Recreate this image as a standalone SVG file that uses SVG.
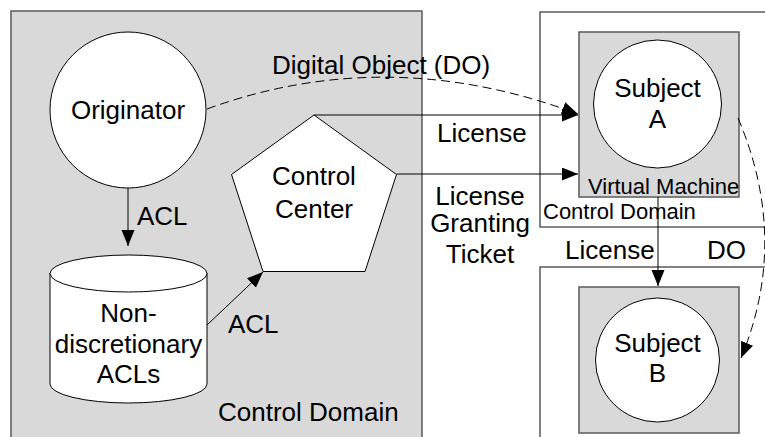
<svg xmlns="http://www.w3.org/2000/svg" width="765" height="437" viewBox="0 0 765 437">
  <style>
    .domain { fill: #d9d9d9; stroke: #5a5a5a; stroke-width: 1.5; }
    .frame { fill: #ffffff; stroke: #5a5a5a; stroke-width: 1.5; }
    .shape { fill: #ffffff; stroke: #000000; stroke-width: 1; }
    .edge { fill: none; stroke: #000000; stroke-width: 1; }
    .dashed { stroke-dasharray: 9 5; }
    text { font-family: "Liberation Sans", Arial, Helvetica, sans-serif; fill: #000000; }
    .big { font-size: 26px; }
    .small { font-size: 22px; }
    .mid { text-anchor: middle; }
  </style>
  <defs>
    <marker id="arrow" markerUnits="userSpaceOnUse" markerWidth="17" markerHeight="14" refX="16" refY="6.5" orient="auto">
      <path d="M0,0 L16,6.5 L0,13 Z" fill="#000000" stroke="none"/>
    </marker>
  </defs>

  <!-- Originator's control domain -->
  <g id="domain-left">
    <rect class="domain" x="11" y="11" width="411" height="440"/>
    <text class="big" x="218" y="421">Control Domain</text>
  </g>

  <!-- Control domain of subject A -->
  <g id="domain-a">
    <rect class="frame" x="540" y="12" width="240" height="215"/>
    <text class="small" x="543" y="219">Control Domain</text>
  </g>

  <!-- Control domain of subject B -->
  <g id="domain-b">
    <rect class="frame" x="540" y="267" width="240" height="200"/>
  </g>

  <g id="vm-a">
    <rect class="domain" x="579" y="32" width="160" height="165"/>
    <text class="small" x="588" y="194">Virtual Machine</text>
  </g>

  <g id="vm-b">
    <rect class="domain" x="579" y="287" width="160" height="146"/>
  </g>

  <g id="originator">
    <circle class="shape" cx="128" cy="110" r="78"/>
    <text class="big mid" x="128" y="119">Originator</text>
  </g>

  <g id="control-center">
    <polygon class="shape" points="314,115 396.5,174.5 365,271.5 263,271.5 231.5,174.5"/>
    <text class="big mid" x="314" y="185">Control</text>
    <text class="big mid" x="314" y="218">Center</text>
  </g>

  <g id="acl-store">
    <path class="shape" d="M50,273 L50,384 A78.5,19 0 0 0 207,384 L207,273"/>
    <ellipse class="shape" cx="128.5" cy="273.5" rx="78.5" ry="18.5"/>
    <text class="big mid" x="128.5" y="322">Non-</text>
    <text class="big mid" x="128.5" y="353">discretionary</text>
    <text class="big mid" x="128.5" y="383">ACLs</text>
  </g>

  <g id="subject-a">
    <circle class="shape" cx="657.5" cy="104" r="64"/>
    <text class="big mid" x="657.5" y="97">Subject</text>
    <text class="big mid" x="657.5" y="128">A</text>
  </g>

  <g id="subject-b">
    <circle class="shape" cx="657.5" cy="360" r="62"/>
    <text class="big mid" x="657.5" y="352">Subject</text>
    <text class="big mid" x="657.5" y="382">B</text>
  </g>

  <!-- Connectors -->
  <g id="connectors">
    <path class="edge dashed" d="M207,109 Q388,43 578,114" marker-end="url(#arrow)"/>
    <path class="edge" d="M128,188 L128,246" marker-end="url(#arrow)"/>
    <path class="edge" d="M207,325 L263,272" marker-end="url(#arrow)"/>
    <path class="edge" d="M314,115 L578,115" marker-end="url(#arrow)"/>
    <path class="edge" d="M396.5,174 L578,174" marker-end="url(#arrow)"/>
    <path class="edge" d="M658,197 L658,286" marker-end="url(#arrow)"/>
    <path class="edge dashed" d="M738,118 Q790,240 741,358" marker-end="url(#arrow)"/>

    <text class="big" x="272" y="74">Digital Object (DO)</text>
    <text class="big" x="137" y="225">ACL</text>
    <text class="big" x="228" y="333">ACL</text>
    <text class="big" x="437" y="142">License</text>
    <text class="big mid" x="480" y="205">License</text>
    <text class="big mid" x="480" y="232">Granting</text>
    <text class="big mid" x="480" y="263">Ticket</text>
    <text class="big" x="565" y="259">License</text>
    <text class="big" x="707" y="259">DO</text>
  </g>
</svg>
